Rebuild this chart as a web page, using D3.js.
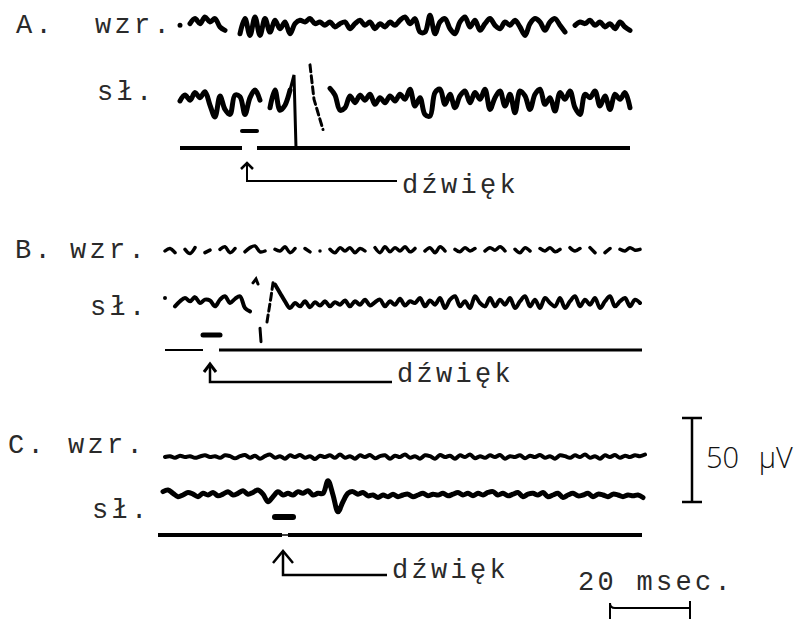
<!DOCTYPE html>
<html>
<head>
<meta charset="utf-8">
<script src="https://cdnjs.cloudflare.com/ajax/libs/d3/7.8.5/d3.min.js"></script>
<style>
body { margin: 0; background: #fff; }
.tw { font-family: "Liberation Mono", "DejaVu Sans Mono", monospace; font-size: 27px; letter-spacing: 3.3px; fill: #2a2a2a; }
.sans { font-family: "Open Sans", "Noto Sans", sans-serif; font-weight: 300; font-size: 29px; word-spacing: 12px; fill: #111; }
</style>
</head>
<body>
<div id="chart-area"></div>
<script>
/*
*    EEG responses to sound, visual (wzr.) and auditory (sł.) leads
*/

// labels
var panels = ["A.", "B.", "C."];
var channels = ["wzr.", "sł."];
var stimLabel = "dźwięk";
var uvLabel = "50 μV";
var msLabel = "20 msec.";

// calibration
var scaleUv = 50;
var scaleMs = 20;

// sampling step of every trace (ms)
var stepMs = 1.25;
var wzrStart = [0, 0, 0];
var slStart = [0, 0, -0.5];

// traces, microvolts (null = pen gap)
var aWzr = [1, null, 2, 5, 2, 6, 3, 5, 0, -2,
    null, null, -4, 5, -5, 6, -5, 5, -3, 4,
    -1, 3, -4, 2, 4, 3, 5, 2, 3, 1,
    3, 0, 2, 3, -1, 2, 4, 1, 3, -1,
    2, 0, 3, 1, 4, 6, 2, 5, -3, -3,
    7, -4, 3, 5, -1, -4, 3, 6, 0, 4,
    -2, 2, 5, 1, -1, 3, 1, 4, 0, -5,
    2, 5, 3, -2, 3, 5, 1, -3, null, 1,
    3, 2, 4, 1, 3, 0, 2, -1, 3, 0,
    -2];
var aSl = [0, 3.5, 0.5, 5, 2, 5.5, -2.5, -9.5, 3, -5,
    -8, 3.5, 2.5, -8, 2, 6.5, 0.5, null, -4, 6.5,
    -5.5, -2.5, 6.5, null, null, null, null, null, null, null,
    7.5, 3.5, -5.5, -4, 3, -1, 3.5, 0.5, 4, -2,
    2, -1, 3, 0, 4, 1, 7, -3, 2, -8,
    -9, 5, 7, -2, 4, -4, 3, 6, -1, 5,
    1, 7, -5, 2, 6, -3, 4, -7, 6, 3,
    -5, 4, 7, -2, 2, -6, 5, 1, 6, -4,
    -8, 4, 2, 6, -3, 3, -5, 4, 1, 5,
    -4];
var bWzr = [0, 1.5, -1, null, 1, -1.5, 2, null, -1, 0.5,
    null, 1, 2.5, -1, 1.5, null, -0.5, 2, 3, -0.5,
    0, null, 1, 0, 2.5, -1, 1.5, null, 1.5, -0.5,
    null, 0, null, 1, -1, 2, 0, 2, -1, 1.5,
    0, null, 2, -1, 2.5, -0.5, 2, 0, 2.5, -0.5,
    1.5, null, 0, 2, -1, 2.5, 0, null, 1, -0.5,
    2, 0, 1.5, null, 0, 2, 0.5, 2.5, 0, null,
    1, -1, 2, 0, null, 1.5, 0, 2, -0.5, 1,
    null, 2, 0, 1.5, null, 2, -1, null, -1, 1.5,
    null, 1, 0, 2, 0.5, 1];
var bSl = [3, null, -2, 1, 3, 1, 3.5, 0, 2, 1.5,
    -2, 2, 4, 0, 2.5, 4, -3, -5, null, null,
    null, null, 11, 6, 1, -3, 0, -2, 1, -2.5,
    0.5, -1.5, 1, -2, 0.5, -1, 1.5, -2, 1, -1,
    2, -1.5, 0.5, 2, -2, 1, -1, 2.5, -1.5, 1,
    0, 3, -2, 1.5, -1, 3, -3, 2, 4, -2,
    1, -3, 4, 0, -2, 3, -2, 2, -1, 3,
    -3, 1, 4, -2, 2, -3, 3, 0, -2, 3,
    -3, 1, 4, -2, 2, -1, 3, -3, 1, 4,
    -2, 1, 3, -2, 2, 0];
var cWzr = [0, 0.5, -0.5, 0.8, 0, 0.5, -0.5, 0.3, 1, 0,
    0.5, -0.5, 1, 0.5, -0.8, 0.5, 1.2, -0.5, 0.8, -1,
    0.5, 1.5, -0.5, 0.5, -1, 1, 0, 1.2, -0.5, 0.5,
    -1.2, 0.8, 0, 1, -0.5, 1.5, -0.5, 0.5, -1, 1,
    0, 1.2, -0.8, 0.5, 1, -1, 0.8, 0, 1.5, -0.5,
    0.5, -1, 1, 0.5, -1, 1.2, 0, 0.8, -1, 1,
    0, 1.5, -0.8, 0.5, -0.5, 1, 0, 1.2, -1, 0.5,
    0, 1, -0.8, 0.8, 0, 1.2, -0.5, 0.5, -1, 1,
    0.5, -0.5, 1, 0, 1.5, -0.5, 0.5, -1, 1, 0,
    1.2, -0.5, 0.8, 0, 1, 0.5, 1.5];
var cSl = [2, 3, 1, -1, 0, 1.5, 0.5, -1, 1, 0,
    1.5, -0.5, 0.5, 2, 0, 1, 2.5, 0.5, 1.5, 3,
    0.5, -4, -1, 2, 0, 1, 0, 2, 1, 2.5,
    0, 1, 1, 8.5, 0, -10, -4, 1, 2, 0.5,
    1.5, -0.5, 0, -1.5, 0, -1, 0.5, -1, 0, 0.5,
    -1, 0, 1, -0.5, 0.5, 0, 1, -0.5, 0.5, 1.5,
    0, 1, -0.5, 1, 0, 1.5, 2, 0, 1, -0.5,
    0.5, 1.5, -1, 0.5, 1, 0, 1.5, -1, 0, 1,
    -1.5, 0, 1, -0.5, 0, 1, -1, 0.5, 0, -1,
    0.5, 0, -1, 0, -0.5, 0, -1.5];

// artefacts of the click on the sł. lead: [ms, uV]
var aSpike = [[27.5, 6.5], [28.5, 15.5], [29, -28]];
var aSpikeDash = [[32.5, 21.5], [33.5, 1], [35.75, -17]];
var bSpikeTop = [[22, 12], [22.75, 14.3], [23.25, 11.3]];
var bSpikeDash = [[25.5, -11.3], [26.5, 3.6], [27, 12]];
var bTick = [[23.75, -15], [24, -23]];

// stimulus (ms): marker dash, gap in the time line, arrow, end of time line
var stimDash = [[15.5, 19.25], [9.5, 13.75], [27.5, 32]];
var baseGap = [[15.5, 19.25], [9.5, 13.5], [29.25, 30.75]];
var arrowT = [16.75, 11.25, 29.5];
var baseStart = [0, 0, -1.75];
var baseEnd = [112.5, 119.25, 119.25];

// layout of the three panels (pixels)
var layout = [
    { x0: 180, wzrY: 27, slY: 101, baseY: 148, dashY: 131, baseW: [4, 4],
      wzrW: 5, slW: 5, dashW: 4, letterX: 16, wzrX: 95, slX: 97,
      wzrTextY: 33, slTextY: 100, arrowTop: 163, arrowY: 181, labelX: 402, labelY: 193, head: "caret" },
    { x0: 165, wzrY: 251, slY: 303, baseY: 350, dashY: 335, baseW: [2, 3],
      wzrW: 3.5, slW: 4, dashW: 5, letterX: 15, wzrX: 70, slX: 90,
      wzrTextY: 258, slTextY: 315, arrowTop: 364, arrowY: 382, labelX: 397, labelY: 382, head: "arrow" },
    { x0: 165, wzrY: 457, slY: 495, baseY: 535, dashY: 517, baseW: [4, 4],
      wzrW: 4, slW: 5, dashW: 6, letterX: 8, wzrX: 68, slX: 92,
      wzrTextY: 453, slTextY: 518, arrowTop: 551, arrowY: 575, labelX: 392, labelY: 578, head: "open" }
];

var width = 805, height = 619;

var svg = d3.select("#chart-area")
    .append("svg")
        .attr("width", width)
        .attr("height", height);

// 50 uV = 84 px
var uv = d3.scaleLinear()
    .domain([0, scaleUv])
    .range([0, 84]);

var wzrData = [aWzr, bWzr, cWzr];
var slData = [aSl, bSl, cSl];

function toPoints(arr, start){
    return arr.map(function(v, i){ return [start + i * stepMs, v]; });
}

layout.forEach(function(L, p){
    var g = svg.append("g");

    // 4 px per ms
    var x = d3.scaleLinear()
        .domain([0, 120])
        .range([L.x0, L.x0 + 480]);

    function trace(cy){
        return d3.line()
            .defined(function(d){ return d[1] !== null; })
            .x(function(d){ return x(d[0]); })
            .y(function(d){ return cy - uv(d[1]); })
            .curve(d3.curveCatmullRom.alpha(0.5));
    }
    function straight(cy){
        return d3.line()
            .x(function(d){ return x(d[0]); })
            .y(function(d){ return cy - uv(d[1]); });
    }

    // traces
    g.append("path")
        .attr("d", trace(L.wzrY)(toPoints(wzrData[p], wzrStart[p])))
        .attr("fill", "none")
        .attr("stroke", "#000")
        .attr("stroke-width", L.wzrW)
        .attr("stroke-linecap", "round")
        .attr("stroke-linejoin", "round");

    g.append("path")
        .attr("d", trace(L.slY)(toPoints(slData[p], slStart[p])))
        .attr("fill", "none")
        .attr("stroke", "#000")
        .attr("stroke-width", L.slW)
        .attr("stroke-linecap", "round")
        .attr("stroke-linejoin", "round");

    // click artefacts
    var solid = [], dashed = [];
    if (p === 0) { solid = [aSpike]; dashed = [aSpikeDash]; }
    if (p === 1) { solid = [bSpikeTop, bTick]; dashed = [bSpikeDash]; }
    solid.forEach(function(s){
        g.append("path")
            .attr("d", straight(L.slY)(s))
            .attr("fill", "none")
            .attr("stroke", "#000")
            .attr("stroke-width", 3)
            .attr("stroke-linecap", "round");
    });
    dashed.forEach(function(s){
        g.append("path")
            .attr("d", straight(L.slY)(s))
            .attr("fill", "none")
            .attr("stroke", "#000")
            .attr("stroke-width", 3)
            .attr("stroke-dasharray", "7,4")
            .attr("stroke-linecap", "round");
    });

    // stimulus dash
    g.append("line")
        .attr("x1", x(stimDash[p][0]))
        .attr("x2", x(stimDash[p][1]))
        .attr("y1", L.dashY)
        .attr("y2", L.dashY)
        .attr("stroke", "#000")
        .attr("stroke-width", L.dashW)
        .attr("stroke-linecap", "round");

    // time line, broken at the stimulus
    g.append("line")
        .attr("x1", x(baseStart[p]))
        .attr("x2", x(baseGap[p][0]))
        .attr("y1", L.baseY)
        .attr("y2", L.baseY)
        .attr("stroke", "#000")
        .attr("stroke-width", L.baseW[0]);
    g.append("line")
        .attr("x1", x(baseGap[p][1]))
        .attr("x2", x(baseEnd[p]))
        .attr("y1", L.baseY)
        .attr("y2", L.baseY)
        .attr("stroke", "#000")
        .attr("stroke-width", L.baseW[1]);
    if (p === 2) {
        g.append("line")
            .attr("x1", x(baseGap[p][0]))
            .attr("x2", x(baseGap[p][1]))
            .attr("y1", L.baseY)
            .attr("y2", L.baseY)
            .attr("stroke", "#000")
            .attr("stroke-width", 1.5);
    }

    // arrow pointing at the stimulus, leading to the label
    var ax = x(arrowT[p]);
    g.append("path")
        .attr("d", "M" + ax + "," + L.arrowTop + "V" + L.arrowY + "H" + (L.labelX - 5))
        .attr("fill", "none")
        .attr("stroke", "#000")
        .attr("stroke-width", p === 0 ? 2 : 2.5);
    var hw = p === 2 ? 10 : 6, hh = p === 2 ? 12 : 6;
    if (L.head === "arrow") {
        g.append("path")
            .attr("d", "M" + (ax - hw) + "," + (L.arrowTop + hh + 2) + "L" + ax + "," + L.arrowTop
                + "L" + (ax + hw) + "," + (L.arrowTop + hh + 2))
            .attr("fill", "none")
            .attr("stroke", "#000")
            .attr("stroke-width", 3);
    } else {
        g.append("path")
            .attr("d", "M" + (ax - hw) + "," + (L.arrowTop + hh) + "L" + ax + "," + L.arrowTop
                + "L" + (ax + hw) + "," + (L.arrowTop + hh))
            .attr("fill", "none")
            .attr("stroke", "#000")
            .attr("stroke-width", 2.5);
    }

    // texts
    g.append("text").attr("class", "tw")
        .attr("x", L.letterX).attr("y", L.wzrTextY).text(panels[p]);
    g.append("text").attr("class", "tw")
        .attr("x", L.wzrX).attr("y", L.wzrTextY).text(channels[0]);
    g.append("text").attr("class", "tw")
        .attr("x", L.slX).attr("y", L.slTextY).text(channels[1]);
    g.append("text").attr("class", "tw")
        .attr("x", L.labelX).attr("y", L.labelY).text(stimLabel);
});

// calibration: 50 uV vertical bar
var barX = 692, barTop = 418;
svg.append("path")
    .attr("d", "M" + barX + "," + barTop + "V" + (barTop + uv(scaleUv))
        + "M" + (barX - 10) + "," + barTop + "H" + (barX + 10)
        + "M" + (barX - 10) + "," + (barTop + uv(scaleUv)) + "H" + (barX + 10))
    .attr("fill", "none")
    .attr("stroke", "#000")
    .attr("stroke-width", 2.5);
svg.append("text").attr("class", "sans")
    .attr("x", 706).attr("y", 468).text(uvLabel);

// calibration: 20 ms horizontal bar
var tBar = d3.scaleLinear().domain([0, scaleMs]).range([610, 610 + 80]);
svg.append("path")
    .attr("d", "M" + tBar(0) + "," + 619 + "V" + 603 + "Q" + tBar(0) + "," + 608 + " " + (tBar(0) + 5) + "," + 608
        + "H" + tBar(scaleMs) + "M" + tBar(scaleMs) + "," + 601 + "V" + 619)
    .attr("fill", "none")
    .attr("stroke", "#000")
    .attr("stroke-width", 2);
svg.append("text").attr("class", "tw")
    .attr("x", 578).attr("y", 590).text(msLabel);
</script>
</body>
</html>
